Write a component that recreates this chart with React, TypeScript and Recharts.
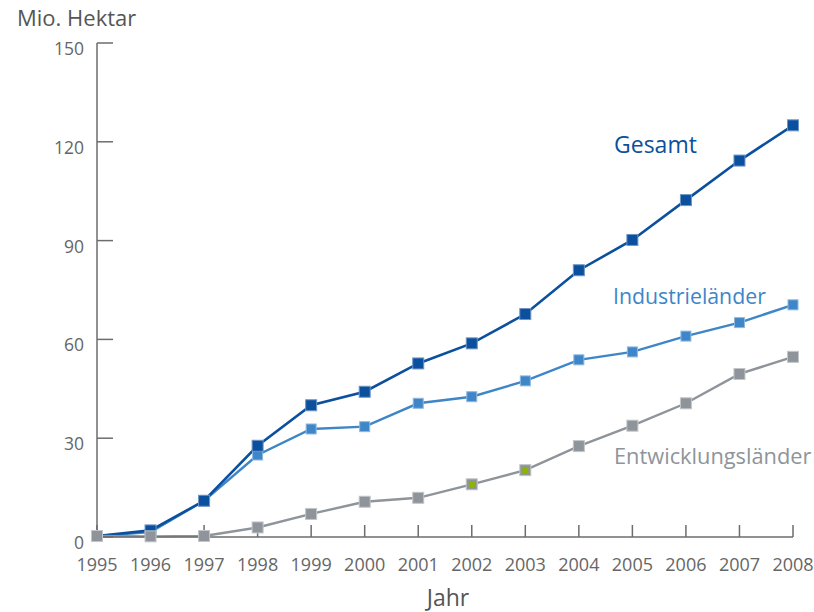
import React from 'react';
import { LineChart, Line, XAxis, YAxis, Customized } from 'recharts';

const years = [1995, 1996, 1997, 1998, 1999, 2000, 2001, 2002, 2003, 2004, 2005, 2006, 2007, 2008];
const gesamt = [0.3, 2, 11, 27.7, 40, 44.1, 52.7, 58.8, 67.7, 81, 90.2, 102.3, 114.3, 125];
const industrie = [0.3, 1.5, 11, 24.9, 32.8, 33.5, 40.6, 42.6, 47.4, 53.8, 56.2, 61, 65.1, 70.5];
const entwicklung = [0.3, 0.2, 0.3, 2.9, 7, 10.7, 11.9, 16, 20.3, 27.6, 33.8, 40.6, 49.5, 54.7];
const highlightYears = [2002, 2003];
const yTicks = [0, 30, 60, 90, 120, 150];

const rows = years.map((year, i) => ({
  year,
  gesamt: gesamt[i],
  industrie: industrie[i],
  entwicklung: entwicklung[i],
}));

const FONT = '"Open Sans", sans-serif';
const AXIS = '#6d6d6d';
const C_GESAMT = '#0b509e';
const C_INDUSTRIE = '#3e86c7';
const C_ENTW = '#8e949a';

function squareDot(size: number, fill: string, stroke: string) {
  return (props: any) => {
    const { cx, cy, index, payload } = props;
    if (cx == null || cy == null) return <g key={index} />;
    const hl = fill === C_ENTW && highlightYears.includes(payload.year);
    return (
      <g key={index}>
        <rect x={cx - size / 2} y={cy - size / 2} width={size} height={size} fill={fill} stroke={stroke} strokeWidth={1} />
        {hl && <rect x={cx - 3} y={cy - 3} width={6} height={6} fill="#8cb400" />}
      </g>
    );
  };
}

const XTick = (props: any) => (
  <text x={props.x} y={props.y} textAnchor="middle" fontSize={18} fill="#666" fontFamily={FONT}>
    {props.payload.value}
  </text>
);

const YTick = (props: any) => (
  <text x={props.x} y={props.y + 12} textAnchor="end" fontSize={17.5} fill="#666" fontFamily={FONT}>
    {props.payload.value}
  </text>
);

// Beschriftungen direkt an den Linien, wie im Original
const Annotations = () => (
  <g fontFamily={FONT}>
    <text x={17} y={26} fontSize={22} fill="#555">Mio. Hektar</text>
    <text x={448} y={606} fontSize={23} fill="#555" textAnchor="middle">Jahr</text>
    <text x={614} y={153} fontSize={23} fill={C_GESAMT}>Gesamt</text>
    <text x={613} y={304} fontSize={21.3} fill={C_INDUSTRIE}>Industrieländer</text>
    <text x={614} y={464} fontSize={21.8} fill={C_ENTW}>Entwicklungsländer</text>
  </g>
);

export default function App() {
  return (
    <div style={{ position: 'absolute', left: 0, top: 0, background: '#fff' }}>
      <LineChart width={814} height={612} data={rows} margin={{ top: 43, right: 21, bottom: 0, left: 0 }}>
        <XAxis
          dataKey="year"
          type="number"
          domain={[1995, 2008]}
          ticks={years}
          height={75}
          stroke={AXIS}
          strokeWidth={1.5}
          tickSize={-12}
          tickMargin={46}
          tick={<XTick />}
          interval={0}
        />
        <YAxis
          domain={[0, 150]}
          ticks={yTicks}
          width={97}
          stroke={AXIS}
          strokeWidth={1.5}
          tickSize={-16}
          tickMargin={29}
          tick={<YTick />}
          interval={0}
        />
        <Line
          dataKey="industrie"
          stroke={C_INDUSTRIE}
          strokeWidth={2.4}
          dot={squareDot(10, C_INDUSTRIE, '#8fb8e0')}
          activeDot={false}
          isAnimationActive={false}
        />
        <Line
          dataKey="gesamt"
          stroke={C_GESAMT}
          strokeWidth={2.6}
          dot={squareDot(11, C_GESAMT, '#6f95c4')}
          activeDot={false}
          isAnimationActive={false}
        />
        <Line
          dataKey="entwicklung"
          stroke={C_ENTW}
          strokeWidth={2.4}
          dot={squareDot(11, C_ENTW, '#c2c6ca')}
          activeDot={false}
          isAnimationActive={false}
        />
        <Customized component={Annotations} />
      </LineChart>
    </div>
  );
}
